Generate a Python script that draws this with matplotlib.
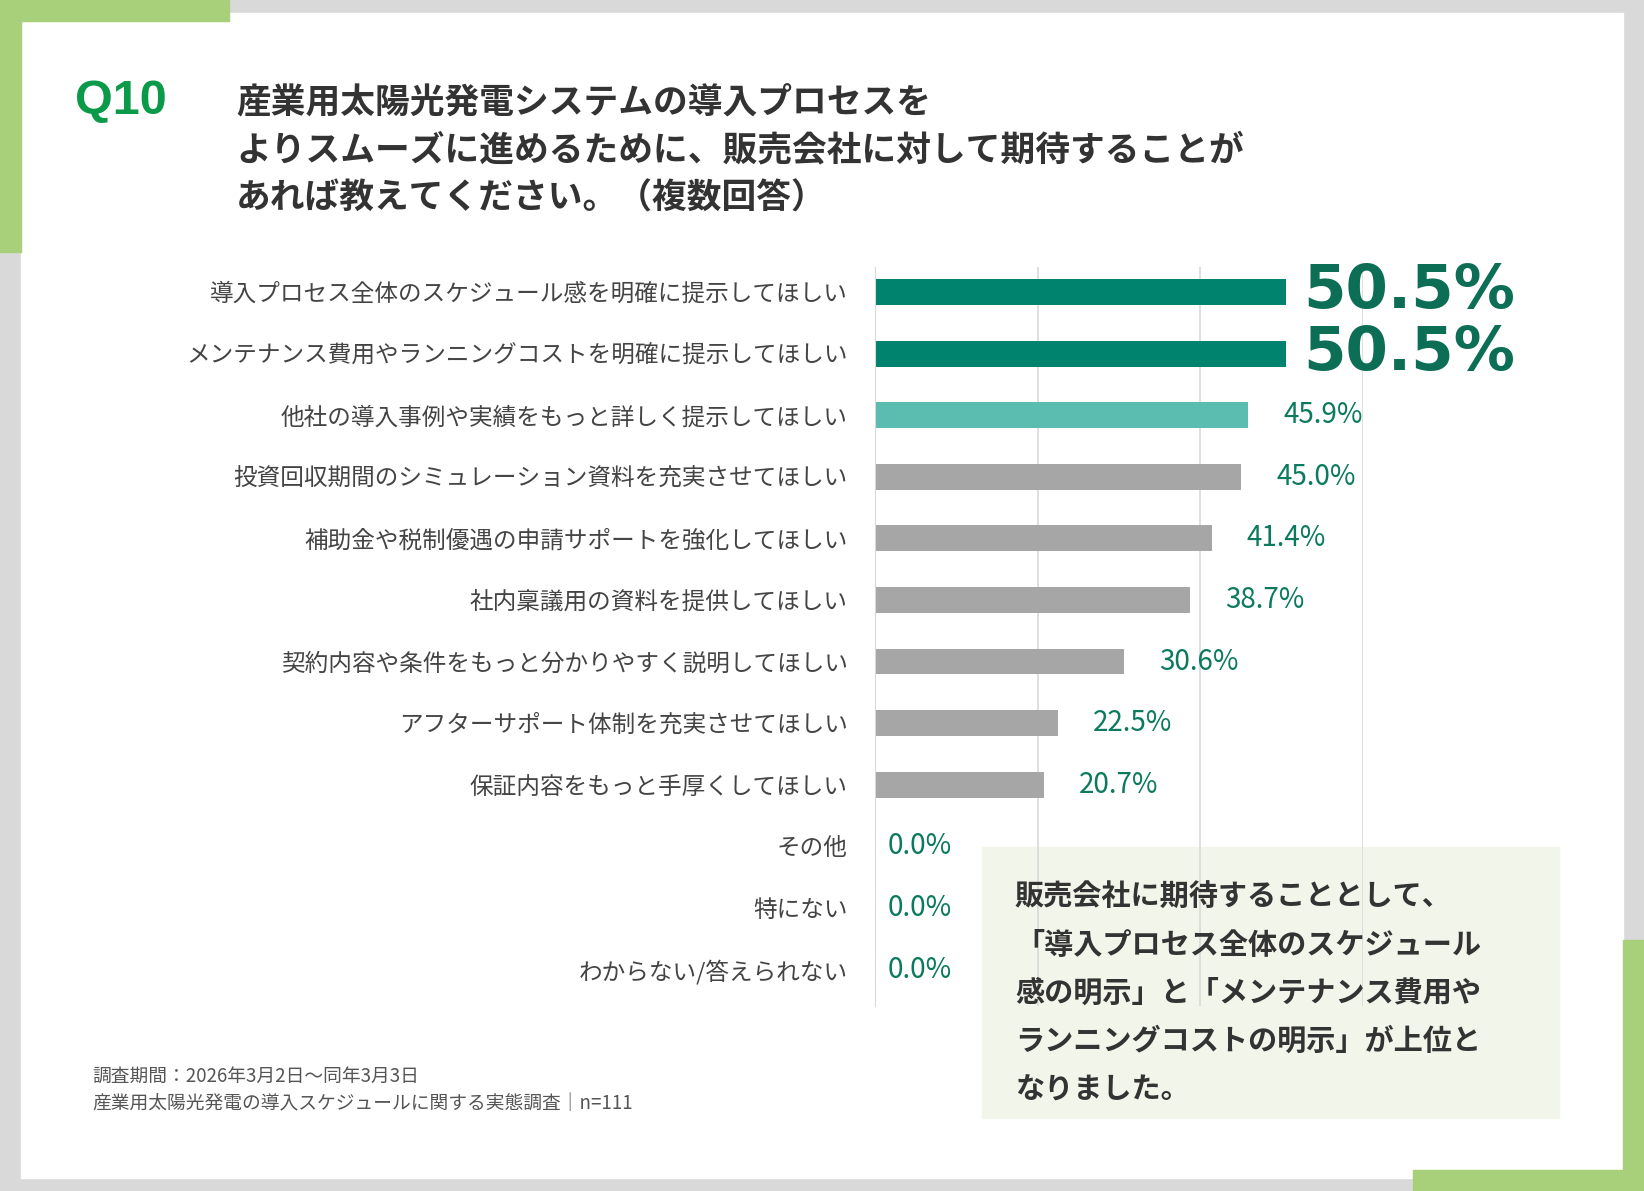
import matplotlib
matplotlib.use("Agg")
import matplotlib.pyplot as plt
from matplotlib.patches import Rectangle

plt.rcParams['font.family'] = ['Noto Sans CJK JP', 'DejaVu Sans']

categories = [
    "導入プロセス全体のスケジュール感を明確に提示してほしい",
    "メンテナンス費用やランニングコストを明確に提示してほしい",
    "他社の導入事例や実績をもっと詳しく提示してほしい",
    "投資回収期間のシミュレーション資料を充実させてほしい",
    "補助金や税制優遇の申請サポートを強化してほしい",
    "社内稟議用の資料を提供してほしい",
    "契約内容や条件をもっと分かりやすく説明してほしい",
    "アフターサポート体制を充実させてほしい",
    "保証内容をもっと手厚くしてほしい",
    "その他",
    "特にない",
    "わからない/答えられない",
]
values = [50.5, 50.5, 45.9, 45.0, 41.4, 38.7, 30.6, 22.5, 20.7, 0.0, 0.0, 0.0]

W, H = 1568, 1136
fig = plt.figure(figsize=(16.44, 11.91), dpi=100)
fig.patch.set_facecolor("#d9d9d9")


def px_rect(x0, y0, x1, y1, color):
    fig.patches.append(Rectangle((x0 / W, 1 - y1 / H), (x1 - x0) / W, (y1 - y0) / H,
                                 transform=fig.transFigure, color=color, zorder=-10))


def px_text(x, y, s, **kw):
    fig.text(x / W, 1 - y / H, s, **kw)


px_rect(20, 12, 1548, 1124, "white")
green = "#a8d07a"
px_rect(0, 0, 218, 20, green)
px_rect(0, 0, 20, 240, green)
px_rect(1548, 897, 1568, 1136, green)
px_rect(1348, 1116, 1568, 1136, green)
px_rect(937, 808, 1487, 1066, "#f2f5ea")

px_text(72, 97, "Q10", fontsize=35, fontweight="bold", color="#0a9a4a",
        va="center", family="Liberation Sans")
title = ["産業用太陽光発電システムの導入プロセスを",
         "よりスムーズに進めるために、販売会社に対して期待することが",
         "あれば教えてください。（複数回答）"]
for i, line in enumerate(title):
    px_text(225, 97 + i * 46, line, fontsize=25, fontweight="bold", color="#333333", va="center")

ax = fig.add_axes([835 / W, 1 - 960 / H, 465 / W, 705 / H], zorder=1)
ys = list(range(len(categories)))
colors = ["#00836e", "#00836e", "#5bbcb0"] + ["#a6a6a6"] * 9
ax.barh(ys, values, height=0.42, color=colors, zorder=2)
ax.set_xlim(0, 60)
ax.set_ylim(11.6, -0.4)
ax.set_xticks([20, 40, 60])
ax.xaxis.grid(True, color="#d9d9d9", linewidth=1.2, zorder=0)
ax.tick_params(axis="x", length=0, labelbottom=False)
ax.tick_params(axis="y", length=0, pad=20)
ax.set_yticks(ys)
ax.set_yticklabels(categories, fontsize=17, color="#444444")
for s in ["top", "right", "bottom"]:
    ax.spines[s].set_visible(False)
ax.spines["left"].set_color("#d9d9d9")
ax.patch.set_alpha(0)

for i, v in enumerate(values):
    if i < 2:
        ax.text(v + 2.2, i, f"{v:.1f}%", fontsize=44, fontweight="bold", color="#0b6e55",
                va="center", family="DejaVu Sans", clip_on=False)
    elif v == 0:
        ax.text(1.5, i, f"{v:.1f}%", fontsize=20, color="#0b7a5e", va="center",
                clip_on=False)
    else:
        ax.text(v + 4.3, i, f"{v:.1f}%", fontsize=20, color="#0b7a5e", va="center",
                clip_on=False)

box = ["販売会社に期待することとして、",
       "「導入プロセス全体のスケジュール",
       "感の明示」と「メンテナンス費用や",
       "ランニングコストの明示」が上位と",
       "なりました。"]
for i, line in enumerate(box):
    px_text(968, 855 + i * 46, line, fontsize=21, fontweight="bold", color="#333333",
            va="center")

px_text(88, 1027, "調査期間：2026年3月2日～同年3月3日", fontsize=13.5, color="#555555", va="center")
px_text(88, 1053, "産業用太陽光発電の導入スケジュールに関する実態調査｜n=111", fontsize=13.5,
        color="#555555", va="center")

fig.savefig("out.png", dpi=100, facecolor=fig.get_facecolor())
